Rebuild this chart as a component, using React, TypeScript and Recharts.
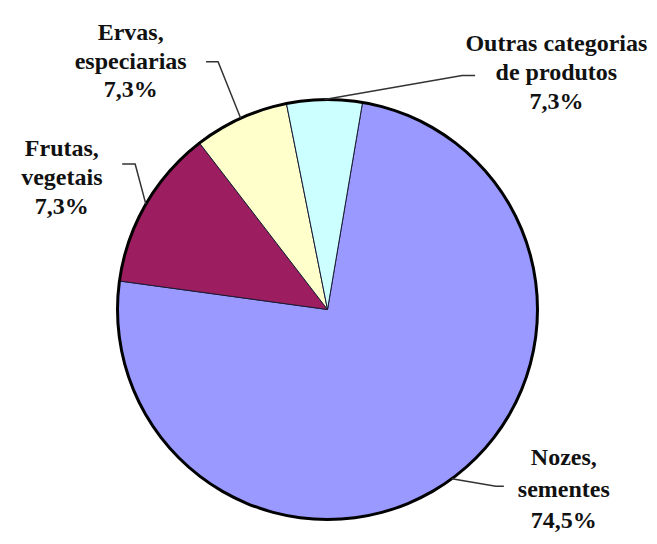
import React from "react";
import { PieChart, Pie, Cell } from "recharts";

const categories = ["Nozes, sementes", "Frutas, vegetais", "Ervas, especiarias", "Outras categorias de produtos"];
// slice sizes as drawn (angles)
const sliceValues = [74.5, 12.4, 7.3, 5.8];
// percentage texts as printed in the labels
const labelPercents = ["74,5%", "7,3%", "7,3%", "7,3%"];
const labelLines = [
  ["Nozes,", "sementes"],
  ["Frutas,", "vegetais"],
  ["Ervas,", "especiarias"],
  ["Outras categorias", "de produtos"],
];
const colors = ["#9999FF", "#9C1D60", "#FFFFCC", "#CCFFFF"];

const data = categories.map((name, i) => ({ name, value: sliceValues[i] }));
const outline = [{ name: "outline", value: 1 }];

// label layout: offsets relative to the point on the rim at the slice mid-angle
const LAYOUT = [
  { elbow: [44, 7.5], end: [52, 7.5], text: [112, -13.5], lh: 31.5 },
  { elbow: [-10.7, -40], end: [-23.7, -40], text: [-84, -48], lh: 29 },
  { elbow: [-22.6, -56.6], end: [-34.6, -56.6], text: [-110, -78], lh: 28.5 },
  { elbow: [137.7, -24], end: [150.7, -24], text: [232, -49], lh: 29 },
];

const RAD = Math.PI / 180;
const FONT = "'Times New Roman', Tinos, 'Liberation Serif', 'DejaVu Serif', serif";

const renderLabel = (props: any) => {
  const { cx, cy, midAngle, outerRadius, index } = props;
  const ex = cx + outerRadius * Math.cos(-midAngle * RAD);
  const ey = cy + outerRadius * Math.sin(-midAngle * RAD);
  const L = LAYOUT[index];
  const lines = [...labelLines[index], labelPercents[index]];
  return (
    <g key={`lbl-${index}`}>
      <polyline
        points={`${ex},${ey} ${ex + L.elbow[0]},${ey + L.elbow[1]} ${ex + L.end[0]},${ey + L.end[1]}`}
        fill="none"
        stroke="#333"
        strokeWidth={1.5}
      />
      {lines.map((t, k) => (
        <text
          key={k}
          x={ex + L.text[0]}
          y={ey + L.text[1] + k * L.lh}
          textAnchor="middle"
          style={{ fontFamily: FONT, fontWeight: 700, fontSize: 24 }}
          fill="#111"
        >
          {t}
        </text>
      ))}
    </g>
  );
};

export default function App() {
  return (
    <PieChart width={649} height={528} margin={{ top: 0, right: 0, bottom: 0, left: 0 }}>
      <Pie
        data={data}
        dataKey="value"
        nameKey="name"
        cx={319.5}
        cy={301.5}
        outerRadius={210}
        startAngle={80.4}
        endAngle={-279.6}
        stroke="#1a1a33"
        strokeWidth={1}
        label={renderLabel}
        labelLine={false}
        isAnimationActive={false}
      >
        {data.map((d, i) => (
          <Cell key={d.name} fill={colors[i]} />
        ))}
      </Pie>
      <Pie
        data={outline}
        dataKey="value"
        cx={319.5}
        cy={301.5}
        innerRadius={208.5}
        outerRadius={211.5}
        startAngle={90}
        endAngle={-270}
        fill="#000"
        stroke="none"
        isAnimationActive={false}
      />
    </PieChart>
  );
}
